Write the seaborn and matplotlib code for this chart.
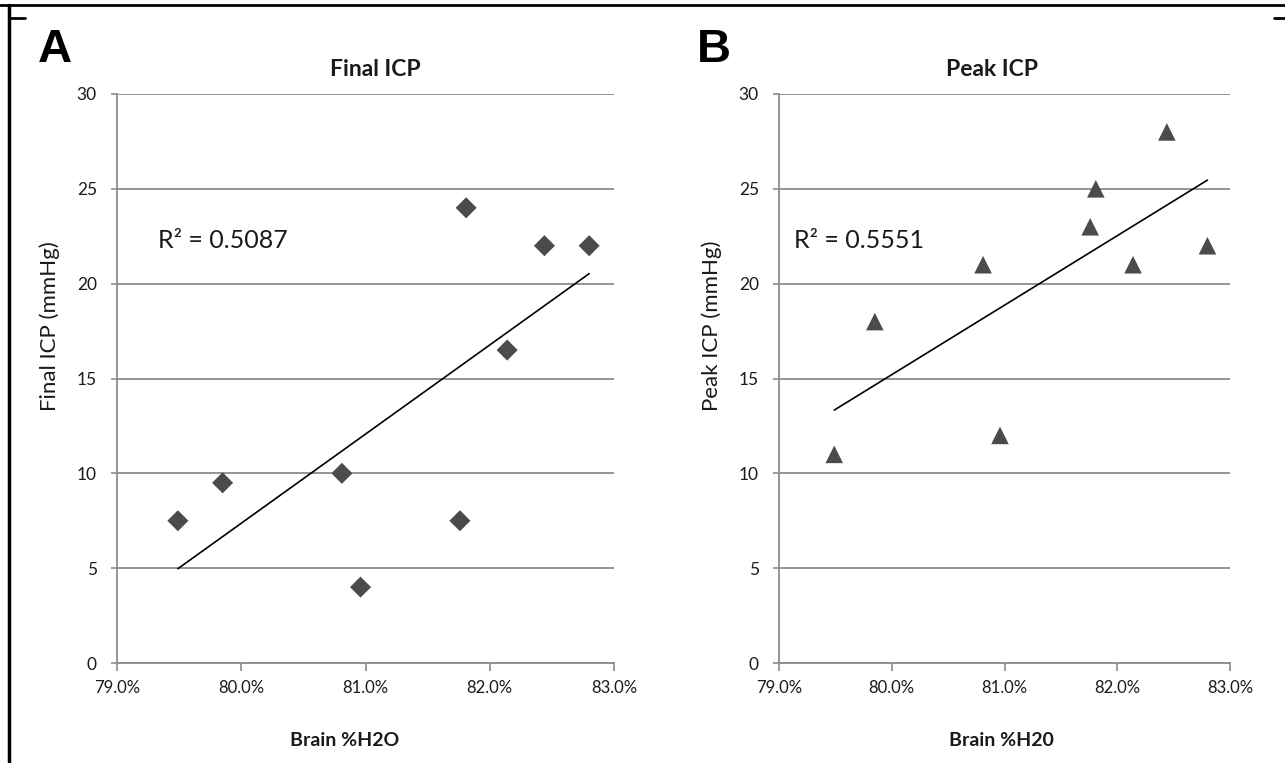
import matplotlib
matplotlib.use("Agg")
import matplotlib.pyplot as plt
import numpy as np
import pandas as pd
import seaborn as sns
from matplotlib.lines import Line2D
from matplotlib.ticker import PercentFormatter

# brain water content (%) per animal, shared by both panels
brain_h2o = [79.49, 79.85, 80.81, 80.96, 81.76, 81.81, 82.14, 82.44, 82.80]
final_icp = [7.5, 9.5, 10.0, 4.0, 7.5, 24.0, 16.5, 22.0, 22.0]
peak_icp = [11.0, 18.0, 21.0, 12.0, 23.0, 25.0, 21.0, 28.0, 22.0]

PANELS = [
    ("A", "Final ICP", "Final ICP (mmHg)", "Brain %H2O", final_icp, "D", "R² = 0.5087"),
    ("B", "Peak ICP", "Peak ICP (mmHg)", "Brain %H20", peak_icp, "^", "R² = 0.5551"),
]

W, H = 1285, 763
# axes boxes in pixels: left, right, top, bottom
BOXES = [(117, 614, 94, 663), (779, 1230, 94, 663)]
LETTER_POS = [(38, 62), (697, 62)]
TITLE_X = [375, 992]
YLABEL_X = [50, 712]
XLABEL_X = [345, 1001]
R2_POS = [(158, 248), (794, 248)]

sns.set_style("white")
plt.rcParams["font.family"] = ["Lato", "DejaVu Sans"]

MARKER_COLOR = "#4b4b4b"
GRID_COLOR = "#8c8c8c"
TEXT_COLOR = "#1a1a1a"

fig = plt.figure(figsize=(W / 100, H / 100), dpi=100)


def fx(px):
    return px / W


def fy(py):
    return 1 - py / H


for i, (letter, title, ylab, xlab, vals, marker, r2) in enumerate(PANELS):
    l, r, t, b = BOXES[i]
    ax = fig.add_axes([fx(l), fy(b), fx(r) - fx(l), fy(t) - fy(b)])
    df = pd.DataFrame({"h2o": brain_h2o, "icp": vals})

    sns.regplot(data=df, x="h2o", y="icp", ax=ax, scatter=False, ci=None,
                truncate=True, line_kws=dict(color="black", lw=1.2, zorder=3))
    sns.scatterplot(data=df, x="h2o", y="icp", ax=ax, marker=marker,
                    s=160 if marker == "^" else 115, color=MARKER_COLOR,
                    edgecolor="none", zorder=4, legend=False)

    ax.set_xlim(79, 83)
    ax.set_ylim(0, 30)
    ax.set_xticks([79, 80, 81, 82, 83])
    ax.set_yticks(np.arange(0, 31, 5))
    ax.xaxis.set_major_formatter(PercentFormatter(decimals=1))
    ax.yaxis.grid(True, color=GRID_COLOR, lw=1.3)
    ax.xaxis.grid(False)
    ax.set_axisbelow(True)
    for side in ["top", "right"]:
        ax.spines[side].set_visible(False)
    for side in ["left", "bottom"]:
        ax.spines[side].set_color(GRID_COLOR)
        ax.spines[side].set_linewidth(1.3)
    ax.tick_params(axis="x", direction="out", length=6, width=1.2, color=GRID_COLOR,
                   labelsize=12, labelcolor=TEXT_COLOR, pad=6, bottom=True)
    ax.tick_params(axis="y", direction="out", length=4.5, width=1.2, color=GRID_COLOR,
                   labelsize=12.5, labelcolor=TEXT_COLOR, pad=10, left=True)

    ax.set_xlabel("")
    ax.set_ylabel("")
    fig.text(fx(XLABEL_X[i]), fy(741), xlab, ha="center", va="center",
             fontsize=14, fontweight="bold", color=TEXT_COLOR)
    fig.text(fx(YLABEL_X[i]), fy(326), ylab, ha="center", va="center", rotation=90,
             fontsize=16, color=TEXT_COLOR)
    fig.text(fx(TITLE_X[i]), fy(70), title, ha="center", va="center",
             fontsize=16.5, fontweight="bold", color=TEXT_COLOR)
    fig.text(fx(LETTER_POS[i][0]), fy(LETTER_POS[i][1]), letter, ha="left", va="baseline",
             fontsize=34, fontweight="bold", color="black", family="Liberation Sans")
    fig.text(fx(R2_POS[i][0]), fy(R2_POS[i][1]), r2, ha="left", va="baseline",
             fontsize=18, color=TEXT_COLOR)

# frame lines of the figure panel
fig.add_artist(Line2D([0, 1], [fy(5), fy(5)], color="black", lw=2, transform=fig.transFigure))
fig.add_artist(Line2D([fx(9), fx(9)], [fy(5), 0], color="black", lw=2.5, transform=fig.transFigure))
fig.add_artist(Line2D([fx(9), fx(25)], [fy(18), fy(18)], color="black", lw=2, transform=fig.transFigure))
fig.add_artist(Line2D([fx(1274), 1], [fy(18), fy(18)], color="black", lw=2, transform=fig.transFigure))

fig.savefig("out.png", dpi=100, facecolor="white")
